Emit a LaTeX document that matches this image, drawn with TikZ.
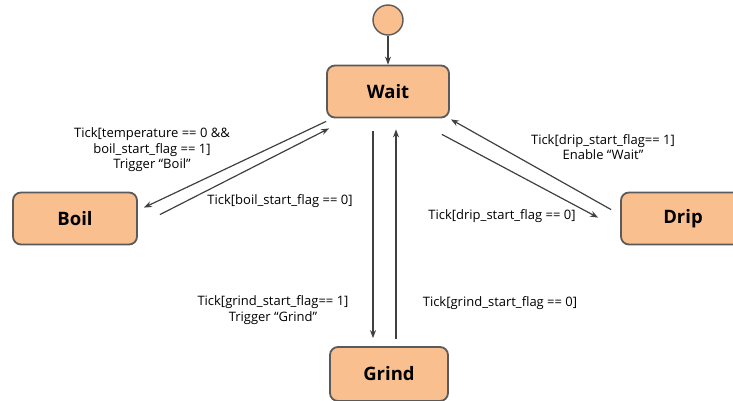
\documentclass[tikz,border=0pt]{standalone}
\usepackage{fontspec}
\setmainfont{Open Sans}
\usetikzlibrary{arrows.meta}
\definecolor{statefill}{HTML}{F9BF8F}
\definecolor{stateline}{HTML}{5A5A5A}
\definecolor{arrowline}{HTML}{404040}

\begin{document}
\begin{tikzpicture}
[every node/.style={inner sep=0pt},
 state/.style={rectangle, rounded corners=8pt, minimum width=122pt, minimum height=52pt, fill=statefill, line width=1.8pt, draw=stateline, font=\fontsize{18.5}{20}\selectfont\bfseries},
 trans/.style={line width=1.2pt, color=arrowline, -{Stealth[length=8pt,width=6pt]}},
 lbl/.style={align=center, font=\fontsize{13}{15.5}\selectfont}]
\useasboundingbox (0pt, 0pt) rectangle (733pt, -400pt);
\node (init) [circle, minimum size=30pt, fill=statefill, line width=1.4pt, draw=stateline] at (388pt, -20pt) {};
\node (wait) [state] at (388pt, -91.5pt) {Wait};
\node (boil) [state, minimum width=124pt] at (75pt, -218.5pt) {Boil};
\node (drip) [state, minimum width=124pt] at (683pt, -218.5pt) {Drip};
\node (grind) [state, minimum width=118pt, minimum height=54pt] at (389pt, -374pt) {Grind};
% transitions
\draw [trans] (init) to (wait);
\draw [trans] ([yshift=-3pt]wait.south west) to ([shift={(6pt,-16pt)}]boil.north east);
\draw [trans] ([shift={(22pt,-23pt)}]boil.north east) to ([shift={(3pt,-10pt)}]wait.south west);
\draw [trans] ([shift={(-8pt,-16pt)}]wait.south east) to ([shift={(-22pt,-26pt)}]drip.north west);
\draw [trans] ([shift={(-9pt,-18pt)}]drip.north west) to ([shift={(1pt,-1pt)}]wait.south east);
\draw [trans] ([shift={(-15pt,-13pt)}]wait.south) to ([shift={(-16pt,8pt)}]grind.north);
\draw [trans] ([shift={(7pt,7pt)}]grind.north) to ([shift={(8pt,-11pt)}]wait.south);
% labels
\node (l1) [lbl] at (152pt, -150pt) {Tick[temperature == 0 \&\&\\boil\_start\_flag == 1]\\Trigger “Boil”};
\node (l2) [lbl] at (280pt, -201pt) {Tick[boil\_start\_flag == 0]};
\node (l3) [lbl] at (603pt, -147pt) {Tick[drip\_start\_flag== 1]\\Enable “Wait”};
\node (l4) [lbl] at (502pt, -216pt) {Tick[drip\_start\_flag == 0]};
\node (l5) [lbl] at (273pt, -310pt) {Tick[grind\_start\_flag== 1]\\Trigger “Grind”};
\node (l6) [lbl] at (500pt, -303pt) {Tick[grind\_start\_flag == 0]};
\end{tikzpicture}
\end{document}
